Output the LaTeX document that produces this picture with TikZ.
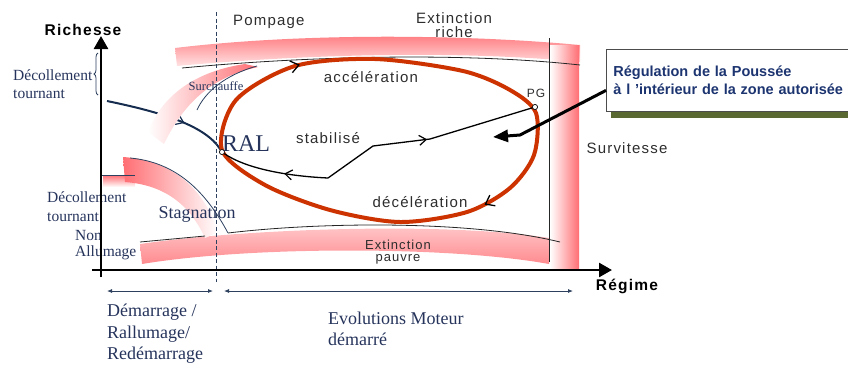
\documentclass[tikz,border=0pt]{standalone}
\usepackage{fontspec}
\setmainfont{Liberation Serif}
\setsansfont{Liberation Sans}
\newfontfamily\zonesans[LetterSpace=8]{Liberation Sans}
\usetikzlibrary{arrows.meta,positioning,calc,decorations.pathreplacing,decorations.markings}
\definecolor{lblBlue}{RGB}{38,52,92}
\definecolor{boxBlue}{RGB}{28,52,112}
\definecolor{loopRed}{RGB}{204,51,0}
\definecolor{bandPink}{RGB}{255,110,115}
\definecolor{curveBlue}{RGB}{22,45,80}
\definecolor{guideBlue}{RGB}{45,65,95}
\definecolor{shadowOlive}{RGB}{90,105,50}
\definecolor{zoneGray}{RGB}{45,45,45}
\tikzset{
  axisln/.style={-{Triangle[length=13pt,width=14pt]}, line width=2.6pt, black},
  bandedge/.style={line width=0.8pt, black!85},
  thinblue/.style={line width=0.8pt, guideBlue},
  loopln/.style={line width=4pt, loopRed},
  stabln/.style={line width=1.3pt, black},
  ralln/.style={line width=2pt, curveBlue},
  guide/.style={{Latex[length=5pt,width=4pt]}-{Latex[length=5pt,width=4pt]}, line width=0.8pt, guideBlue},
  midbarb/.style={postaction={decorate}, decoration={markings,
      mark=at position #1 with {\arrow{Straight Barb[length=7pt,width=10pt,line width=1.2pt]}}}},
  loopbarbs/.style={postaction={decorate}, decoration={markings,
      mark=at position 0.095 with {\arrow[black]{Straight Barb[length=8pt,width=12pt,line width=1.3pt]}},
      mark=at position 0.565 with {\arrow[black]{Straight Barb[length=8pt,width=12pt,line width=1.3pt]}}}},
  ptmark/.style={circle, draw=black, fill=white, line width=0.6pt, inner sep=0pt, minimum size=5pt},
  zonelbl/.style={font=\zonesans\fontsize{15}{14}\selectfont, text=zoneGray, inner sep=0pt, align=center},
  axislbl/.style={font=\zonesans\bfseries\fontsize{15.5}{18}\selectfont, inner sep=0pt},
  serlbl/.style={font=\fontsize{15.5}{18.5}\selectfont, text=lblBlue, inner sep=0pt, align=left},
  biglbl/.style={font=\fontsize{18}{21.5}\selectfont, text=lblBlue, inner sep=0pt, align=left},
  regbox/.style={draw=gray!60!black, fill=white, line width=0.8pt, text=boxBlue,
      font=\sffamily\bfseries\fontsize{14.5}{17.5}\selectfont, align=left,
      text width=238pt, minimum height=62pt, inner xsep=7pt},
}

\begin{document}
\begin{tikzpicture}[x=1pt,y=-1pt]
  \useasboundingbox (0,0) rectangle (848,368);
  % zones
  \shade[top color=bandPink!95, bottom color=bandPink!20]
    (175,48) .. controls (300,33) and (460,34) .. (580,45)
    -- (580,62) .. controls (470,51) and (320,53) .. (177,66) -- cycle;
  \shade[left color=white, right color=bandPink] (550,45) rectangle (579,268);
  \shade[top color=bandPink!35, bottom color=bandPink!80]
    (140,244) .. controls (250,228) and (450,222) .. (549,238)
    -- (549,264) .. controls (450,246) and (250,246) .. (142,264) -- cycle;
  \shade[top color=bandPink, bottom color=white] (103,175) rectangle (135,187);
  % blue curve to RAL
  \coordinate (decol) at (107,101);
  \node[ptmark] (ral) at (222,152) {};
  \draw[ralln, midbarb=0.64] (decol) .. controls (160,112) and (205,125) .. (ral);
  \shade[left color=white, right color=bandPink]
    (148,132) .. controls (160,100) and (190,72) .. (245,64)
    -- (258,67) .. controls (215,76) and (185,100) .. (164,144) -- cycle;
  \shade[left color=bandPink, right color=white]
    (123,157) .. controls (170,160) and (203,186) .. (218,232)
    -- (205,238) .. controls (190,205) and (165,185) .. (125,182) -- cycle;
  % zone edges
  \draw[bandedge] (182,68) .. controls (320,55) and (470,53) .. (580,65);
  \draw[bandedge] (549,38) -- (549,262);
  \draw[bandedge] (140,242) -- (205,236);
  \draw[bandedge] (228,233) .. controls (320,222) and (470,220) .. (560,242);
  \draw[thinblue] (197,110) .. controls (205,92) and (225,75) .. (257,66);
  \draw[thinblue] (130,158) .. controls (175,162) and (205,190) .. (228,233);
  \draw[thinblue] (101,175) -- (135,175);
  \draw[thinblue, decorate, decoration={brace, amplitude=4pt}] (98,95) -- (98,53);
  \draw[guideBlue, line width=0.9pt, dash pattern=on 4pt off 2.5pt] (216,12) -- (216,282);
  % loop
  \draw[loopln, loopbarbs] plot[smooth cycle] coordinates {(222,150) (236,100) (295,66)
    (375,59) (463,71) (510,90) (536,113) (534,155) (510,188) (467,212) (400,222)
    (330,210) (265,185)};
  % stabilised path
  \node[ptmark] (pg) at (535,107) {};
  \coordinate (stab) at (328,178);
  \coordinate (kink) at (373,146);
  \coordinate (bend) at (430,139);
  \draw[stabln, midbarb=0.41] (stab) .. controls (285,176) and (245,168) .. (ral);
  \draw[stabln, midbarb=0.5] (stab) -- (kink) -- (bend) -- (pg);
  \node[ptmark] at (ral) {};
  \node[ptmark] at (pg) {};
  % labels
  \node[zonelbl, anchor=west] (pompage) at (233,22) {Pompage};
  \node[zonelbl] (extriche) at (454,25) {Extinction\\riche};
  \node[zonelbl] (accel) at (371,77) {accélération};
  \node[zonelbl] (stabil) at (328,138) {stabilisé};
  \node[zonelbl] (decel) at (420,202) {décélération};
  \node[zonelbl, font=\zonesans\fontsize{13}{12.5}\selectfont] (extpauvre) at (398,252) {Extinction\\pauvre};
  \node[zonelbl] (survit) at (627,148) {Survitesse};
  \node[zonelbl, font=\zonesans\fontsize{12}{14}\selectfont] (pglbl) at (536,93) {PG};
  \node[serlbl, font=\fontsize{12.5}{14}\selectfont] (surch) at (216,86) {Surchauffe};
  \node[serlbl, font=\fontsize{18}{21}\selectfont] (stagn) at (197,214) {Stagnation};
  \node[serlbl, font=\fontsize{24}{26}\selectfont] (rallbl) at (246,144) {RAL};
  \node[serlbl, anchor=west] (decolup) at (13,84) {Décollement\\tournant};
  \node[serlbl, font=\fontsize{15.5}{19}\selectfont, anchor=west] (decollow) at (47,207) {Décollement\\tournant};
  \node[serlbl, font=\fontsize{15.5}{16.5}\selectfont, anchor=west] (nonall) at (75,245) {Non\\Allumage};
  \node[biglbl, anchor=west] (demarr) at (107,334) {Démarrage /\\Rallumage/\\Redémarrage};
  \node[biglbl, anchor=west] (evol) at (328,329) {Evolutions Moteur\\démarré};
  % axes
  \draw[axisln] (92,270) -- (612,270);
  \draw[axisln] (101,277) -- (101,36);
  \node[axislbl] (richlbl) at (83,30) {Richesse};
  \node[axislbl] (regimelbl) at (627,286) {Régime};
  % phases
  \coordinate (demL) at (107,291);
  \coordinate (demR) at (213,291);
  \coordinate (evoL) at (224,291);
  \coordinate (evoR) at (573,291);
  \draw[guide] (demL) -- (demR);
  \draw[guide] (evoL) -- (evoR);
  % regulation box
  \node[regbox, anchor=north west] (regul) at (606,49) {Régulation de la Poussée\\à l 'intérieur de la zone autorisée};
  \fill[shadowOlive] ($(regul.south west)+(5,0.5)$) rectangle ($(regul.south east)+(0,6.5)$);
  \coordinate (regbend) at (520,135);
  \coordinate (regtip) at (493,137);
  \draw[line width=3pt, -{Triangle[length=15pt,width=12pt]}] ([yshift=-10pt]regul.west) -- (regbend) -- (regtip);
\end{tikzpicture}
\end{document}
